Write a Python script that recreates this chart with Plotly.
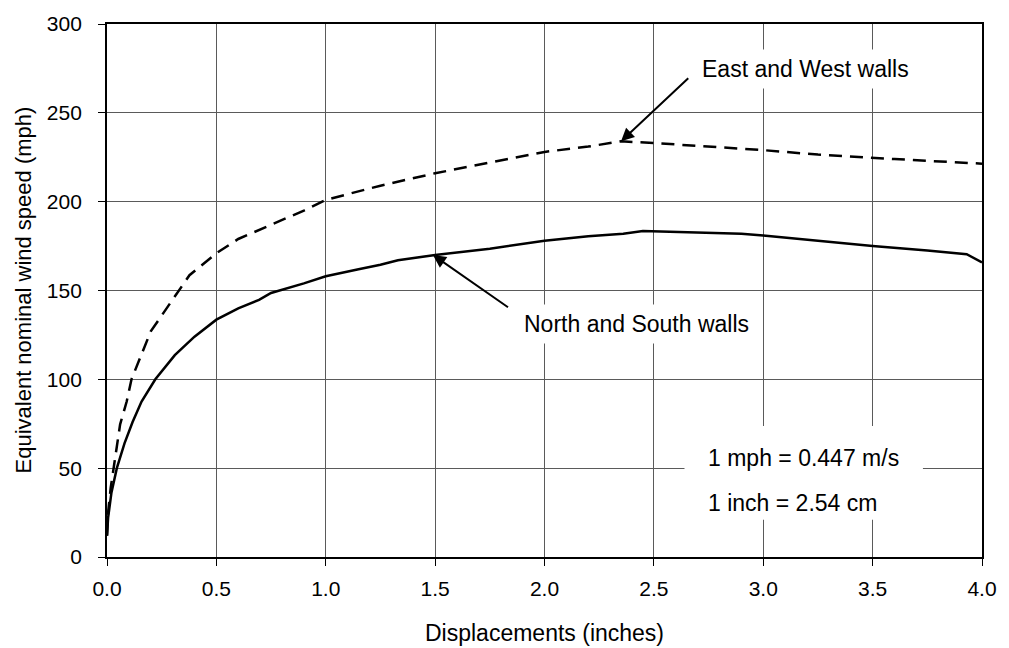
import plotly.graph_objects as go

# Displacement (inches) / equivalent nominal wind speed (mph)
ns_x = [0, 0.005, 0.02, 0.045, 0.08, 0.117, 0.158, 0.221, 0.31, 0.4, 0.5, 0.6, 0.695, 0.75,
        0.9, 1.0, 1.15, 1.25, 1.33, 1.5, 1.75, 1.91, 2.0, 2.2, 2.36, 2.45, 2.6, 2.75, 2.9,
        3.0, 3.25, 3.5, 3.75, 3.93, 4.0]
ns_y = [12, 22, 36, 50, 64, 76, 87.5, 100, 113.6, 124, 133.6, 140, 144.7, 148.6,
        154, 158, 162, 164.5, 167, 170, 173.5, 176.4, 178, 180.5, 182, 183.5, 183, 182.5, 182,
        181, 178, 175, 172.5, 170.4, 165.8]

ew_x = [0, 0.005, 0.017, 0.03, 0.06, 0.09, 0.105, 0.112, 0.2, 0.327, 0.377, 0.5, 0.6, 0.75,
        0.9, 1.0, 1.25, 1.5, 1.75, 2.0, 2.2, 2.35, 2.5, 2.75, 2.9, 3.0, 3.25, 3.5, 3.6, 3.75, 4.0]
ew_y = [12, 25, 39, 50, 74.7, 87.5, 96, 100, 127, 150, 158.6, 171, 179, 187,
        195, 201, 209, 216, 222, 228, 231, 234, 233, 231, 230, 229, 226.5, 225, 224, 223, 221.4]

x_ticks = [0, 0.5, 1.0, 1.5, 2.0, 2.5, 3.0, 3.5, 4.0]
y_ticks = [0, 50, 100, 150, 200, 250, 300]

FONT = "Arial, Liberation Sans, sans-serif"
ANN_FONT = dict(size=23, color="black", family=FONT)

fig = go.Figure()
fig.add_trace(go.Scatter(x=ew_x, y=ew_y, mode="lines", name="East and West walls",
                         line=dict(color="black", width=2.5, dash="13px,8px")))
fig.add_trace(go.Scatter(x=ns_x, y=ns_y, mode="lines", name="North and South walls",
                         line=dict(color="black", width=2.5)))

# white box behind conversion notes
fig.add_shape(type="rect", x0=2.64, x1=3.73, y0=20.9, y1=73.7,
              fillcolor="white", line=dict(width=0), layer="above")

ann = []
# arrows
ann.append(dict(x=2.35, y=234, ax=2.664, ay=270.2, xref="x", yref="y", axref="x", ayref="y",
                text="", showarrow=True, arrowhead=2, arrowsize=1.3, arrowwidth=2, arrowcolor="black"))
ann.append(dict(x=1.49, y=170, ax=1.84, ay=140, xref="x", yref="y", axref="x", ayref="y",
                text="", showarrow=True, arrowhead=2, arrowsize=1.3, arrowwidth=2, arrowcolor="black"))
ann.append(dict(x=2.69, y=274.6, xref="x", yref="y", text="East and West walls", showarrow=False,
                xanchor="left", yanchor="middle", bgcolor="white", borderpad=6, font=ANN_FONT))
ann.append(dict(x=1.875, y=131, xref="x", yref="y", text="North and South walls", showarrow=False,
                xanchor="left", yanchor="middle", bgcolor="white", borderpad=6, font=ANN_FONT))
ann.append(dict(x=2.736, y=55.9, xref="x", yref="y", text="1 mph = 0.447 m/s", showarrow=False,
                xanchor="left", yanchor="middle", font=ANN_FONT))
ann.append(dict(x=2.736, y=30.3, xref="x", yref="y", text="1 inch = 2.54 cm", showarrow=False,
                xanchor="left", yanchor="middle", font=ANN_FONT))
# axis titles
ann.append(dict(x=0.5, y=0, xref="paper", yref="paper", yshift=-76, text="Displacements (inches)",
                showarrow=False, xanchor="center", yanchor="middle",
                font=dict(size=23, color="black", family=FONT)))
ann.append(dict(x=0, y=0.5, xref="paper", yref="paper", xshift=-84, text="Equivalent nominal wind speed (mph)",
                showarrow=False, xanchor="center", yanchor="middle", textangle=-90,
                font=dict(size=22, color="black", family=FONT)))

fig.update_layout(
    width=1009, height=648,
    margin=dict(l=107, r=22, t=18, b=91),
    paper_bgcolor="white", plot_bgcolor="white",
    showlegend=False,
    annotations=ann,
    font=dict(family=FONT, color="black", size=21),
    xaxis=dict(range=[0, 4], tickvals=x_ticks, tickformat=".1f",
               showgrid=True, gridcolor="#5a5a5a", gridwidth=1,
               showline=True, linecolor="black", linewidth=1.8, mirror=True,
               ticks="outside", ticklen=7, tickcolor="black", tickwidth=1,
               ticklabelstandoff=5, zeroline=False,
               tickfont=dict(size=21, family=FONT, color="black")),
    yaxis=dict(range=[0, 300], tickvals=y_ticks,
               showgrid=True, gridcolor="#5a5a5a", gridwidth=1,
               showline=True, linecolor="black", linewidth=1.8, mirror=True,
               ticks="outside", ticklen=7, tickcolor="black", tickwidth=1,
               ticklabelstandoff=12, zeroline=False,
               tickfont=dict(size=21, family=FONT, color="black")),
)

fig.write_html("out.html")
